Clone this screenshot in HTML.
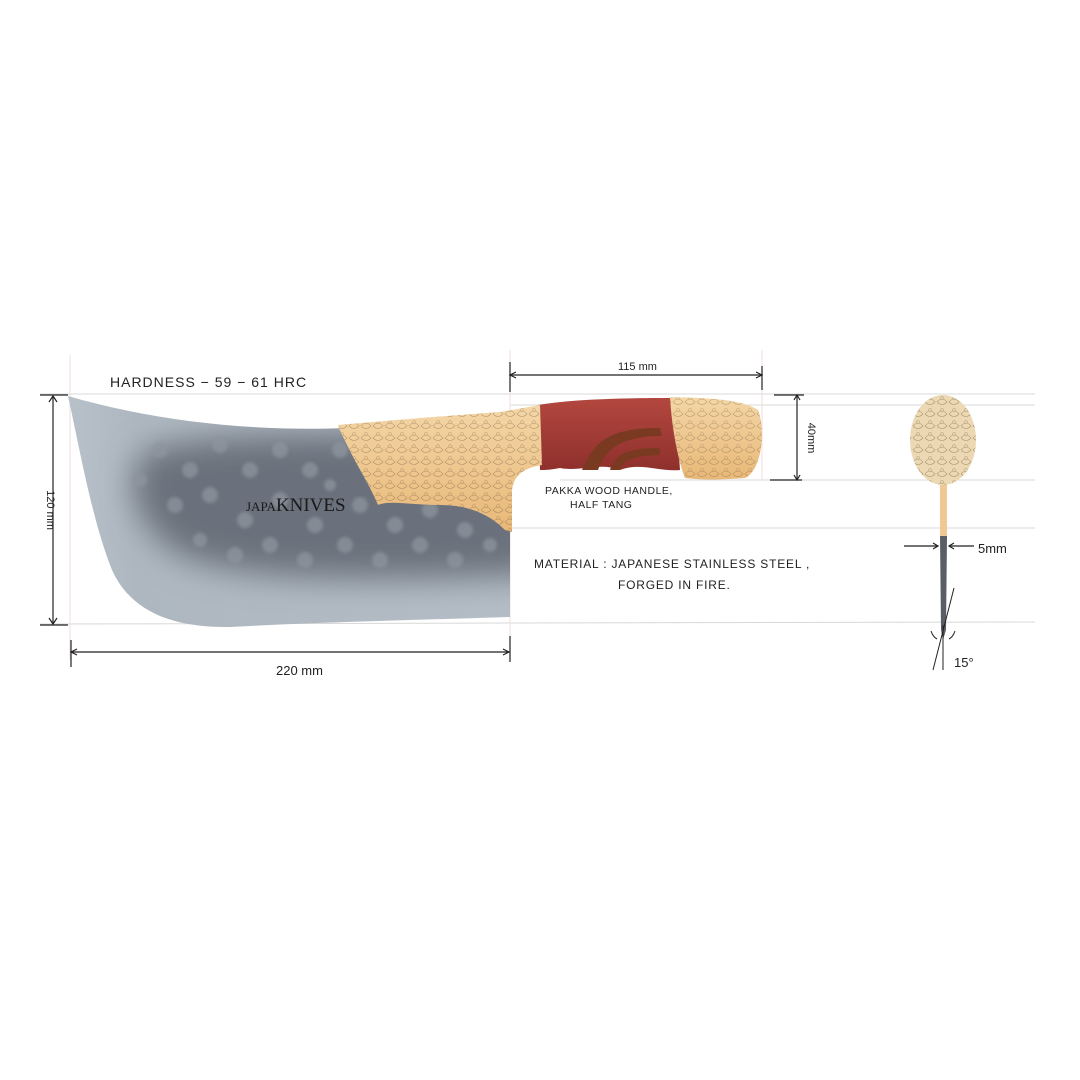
<!DOCTYPE html>
<html><head><meta charset="utf-8"><style>
html,body{margin:0;padding:0;background:#fff;}
svg{display:block;}
.h{font-family:"Liberation Sans",sans-serif;fill:#222;}
</style></head><body>
<svg width="1080" height="1080" viewBox="0 0 1080 1080" xmlns="http://www.w3.org/2000/svg">
<defs>
<linearGradient id="bb" x1="0" y1="0" x2="1" y2="0">
<stop offset="0" stop-color="#b8c1ca"/><stop offset="0.15" stop-color="#aeb7c0"/><stop offset="1" stop-color="#b4bdc6"/>
</linearGradient>
<filter id="blur" x="-50%" y="-50%" width="200%" height="200%"><feGaussianBlur stdDeviation="16"/></filter>
<filter id="b2"><feGaussianBlur stdDeviation="1.5"/></filter>
<linearGradient id="gold" x1="0" y1="0" x2="0" y2="1">
<stop offset="0" stop-color="#f4d6a6"/><stop offset="1" stop-color="#e8b878"/>
</linearGradient>
<linearGradient id="wood" x1="0" y1="0" x2="0" y2="1">
<stop offset="0" stop-color="#b3473f"/><stop offset="1" stop-color="#8f302c"/>
</linearGradient>
<pattern id="eng" width="12" height="12" patternUnits="userSpaceOnUse">
<path d="M1 6 q5 -6 10 0 q-5 5 -10 0" fill="none" stroke="#6b5236" stroke-width="0.6"/>
<circle cx="6" cy="2" r="1.5" fill="none" stroke="#6b5236" stroke-width="0.5"/>
</pattern>
<clipPath id="bc"><path d="M68 396 C 150 420 250 432 345 428 L 510 418 L 510 617 C 420 620 320 622 230 627 C 170 628 130 610 112 570 C 92 520 80 450 68 396 Z"/></clipPath>
</defs>

<g stroke="#d8d8d8" stroke-width="1">
<line x1="40" y1="394" x2="1035" y2="394"/>
<line x1="510" y1="405" x2="1035" y2="405"/>
<line x1="560" y1="480" x2="1035" y2="480"/>
<line x1="510" y1="528" x2="1035" y2="528"/>
<line x1="40" y1="624" x2="1035" y2="622"/>
</g>
<g stroke="#f0dede" stroke-width="1">
<line x1="70" y1="355" x2="70" y2="660"/>
<line x1="510" y1="350" x2="510" y2="660"/>
<line x1="762" y1="350" x2="762" y2="480"/>
</g>

<path d="M68 396 C 150 420 250 432 345 428 L 510 418 L 510 617 C 420 620 320 622 230 627 C 170 628 130 610 112 570 C 92 520 80 450 68 396 Z" fill="url(#bb)"/>
<g clip-path="url(#bc)">
<path d="M150 450 C 200 430 400 430 540 440 L 540 575 C 400 580 250 585 180 555 C 130 525 120 470 150 450 Z" fill="#6a717c" filter="url(#blur)"/>
<g fill="#8d949e" opacity="0.75" filter="url(#b2)">
<circle cx="160" cy="450" r="8"/><circle cx="190" cy="470" r="8"/><circle cx="220" cy="445" r="8"/><circle cx="250" cy="470" r="8"/><circle cx="280" cy="450" r="8"/><circle cx="310" cy="470" r="8"/><circle cx="340" cy="450" r="8"/><circle cx="370" cy="470" r="7"/>
<circle cx="175" cy="505" r="8"/><circle cx="210" cy="495" r="8"/><circle cx="245" cy="520" r="8"/><circle cx="280" cy="500" r="8"/><circle cx="315" cy="525" r="8"/><circle cx="360" cy="505" r="8"/><circle cx="395" cy="525" r="8"/><circle cx="430" cy="510" r="8"/><circle cx="465" cy="530" r="8"/>
<circle cx="200" cy="540" r="7"/><circle cx="235" cy="555" r="8"/><circle cx="270" cy="545" r="8"/><circle cx="305" cy="560" r="8"/><circle cx="345" cy="545" r="8"/><circle cx="380" cy="560" r="8"/><circle cx="420" cy="545" r="8"/><circle cx="455" cy="560" r="8"/><circle cx="490" cy="545" r="7"/>
<circle cx="140" cy="480" r="7"/><circle cx="400" cy="480" r="7"/><circle cx="330" cy="485" r="6"/>
</g>
</g>
<text x="246" y="511" font-family="Liberation Serif,serif" font-size="13" fill="#1a1a1a">JAPA<tspan font-size="19">KNIVES</tspan></text>

<path d="M538 405 C 580 398 640 398 675 398 L 680 470 C 660 472 640 462 620 470 C 600 462 580 472 560 468 C 550 470 545 470 540 470 Z" fill="url(#wood)"/>
<path d="M582 470 C 595 440 610 428 660 428 L 662 436 C 620 436 605 450 598 470 Z" fill="#7a3a22"/>
<path d="M610 470 C 615 455 625 448 660 448 L 660 455 C 630 456 622 462 620 470 Z" fill="#7a3a22"/>
<path d="M670 397 C 700 398 740 398 758 410 C 766 430 762 470 745 478 C 720 480 700 480 685 478 C 678 460 672 430 670 397 Z" fill="url(#gold)"/>
<path d="M670 397 C 700 398 740 398 758 410 C 766 430 762 470 745 478 C 720 480 700 480 685 478 C 678 460 672 430 670 397 Z" fill="url(#eng)" opacity="0.4"/>
<path d="M338 425 L 420 418 L 500 412 L 540 405 L 542 465 C 525 468 514 474 512 490 L 512 532 L 505 530 C 490 515 470 505 440 505 C 410 505 390 500 378 505 C 372 490 360 470 352 455 C 345 440 340 432 338 425 Z" fill="url(#gold)"/>
<path d="M338 425 L 420 418 L 500 412 L 540 405 L 542 465 C 525 468 514 474 512 490 L 512 532 L 505 530 C 490 515 470 505 440 505 C 410 505 390 500 378 505 C 372 490 360 470 352 455 C 345 440 340 432 338 425 Z" fill="url(#eng)" opacity="0.45"/>

<rect x="940" y="480" width="7" height="56" fill="#f0c894"/>
<path d="M940 536 L 947 536 L 946 630 L 943 640 L 941 630 Z" fill="#5a5f66"/>
<ellipse cx="943" cy="440" rx="33" ry="45" fill="#ecd9b4"/>
<ellipse cx="943" cy="440" rx="33" ry="45" fill="url(#eng)" opacity="0.5"/>
<line x1="933" y1="670" x2="954" y2="588" stroke="#222" stroke-width="1"/>
<line x1="943" y1="625" x2="943" y2="670" stroke="#222" stroke-width="1"/>
<path d="M931 631 q2 6 6 8 M955 631 q-2 6 -6 8" stroke="#222" fill="none"/>

<g stroke="#222" stroke-width="1.2" fill="none">
<line x1="53" y1="396" x2="53" y2="624"/><line x1="40" y1="395" x2="68" y2="395"/><line x1="40" y1="625" x2="68" y2="625"/>
<path d="M49 402 L53 396 L57 402 M49 618 L53 624 L57 618"/>
<line x1="71" y1="652" x2="509" y2="652"/><line x1="71" y1="640" x2="71" y2="667"/><line x1="510" y1="636" x2="510" y2="662"/>
<path d="M77 649 L71 652 L77 655 M503 649 L509 652 L503 655"/>
<line x1="510" y1="375" x2="762" y2="375"/><line x1="510" y1="362" x2="510" y2="392"/><line x1="762" y1="366" x2="762" y2="390"/>
<path d="M516 372 L510 375 L516 378 M756 372 L762 375 L756 378"/>
<line x1="797" y1="395" x2="797" y2="480"/><line x1="774" y1="395" x2="804" y2="395"/><line x1="770" y1="480" x2="802" y2="480"/>
<path d="M794 400 L797 395 L800 400 M794 475 L797 480 L800 475"/>
<line x1="904" y1="546" x2="938" y2="546"/><line x1="949" y1="546" x2="974" y2="546"/>
<path d="M933 543 L938 546 L933 549 M954 543 L949 546 L954 549"/>
</g>
<g class="h" font-size="13">
<text x="110" y="387" font-size="14" letter-spacing="1">HARDNESS − 59 − 61  HRC</text>
<text x="276" y="675">220 mm</text>
<text x="618" y="370" font-size="11">115 mm</text>
<text x="47" y="510" font-size="11" transform="rotate(90 47 510)" text-anchor="middle">120 mm</text>
<text x="808" y="438" font-size="11" transform="rotate(90 808 438)" text-anchor="middle">40mm</text>
<text x="978" y="553">5mm</text>
<text x="954" y="667">15°</text>
<text x="545" y="494" font-size="10.5" letter-spacing="0.5">PAKKA WOOD HANDLE,</text>
<text x="570" y="508" font-size="10.5" letter-spacing="0.5">HALF TANG</text>
<text x="534" y="568" font-size="12" letter-spacing="0.8">MATERIAL :  JAPANESE  STAINLESS  STEEL ,</text>
<text x="618" y="589" font-size="12" letter-spacing="0.8">FORGED  IN  FIRE.</text>
</g>
</svg>
</body></html>
